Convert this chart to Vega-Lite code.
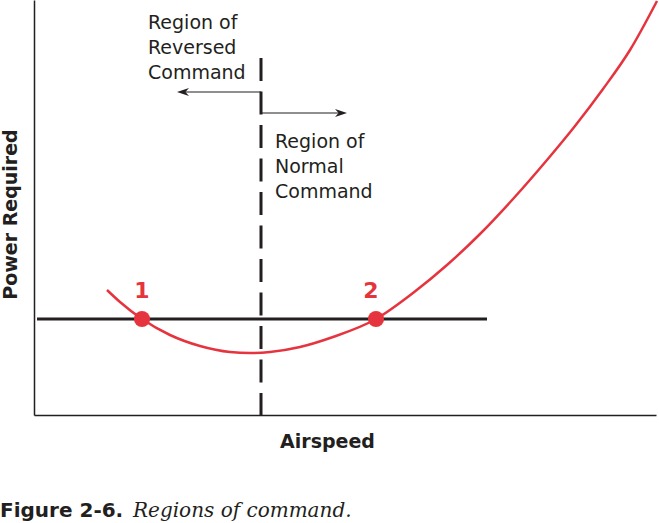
{
  "$schema": "https://vega.github.io/schema/vega-lite/v6.json",
  "width": 622,
  "height": 415,
  "autosize": {"type": "none"},
  "padding": {"left": 34, "top": 0, "right": 3, "bottom": 108},
  "background": "white",
  "config": {"view": {"stroke": null}},
  "datasets": {
    "curve": [
      {"x": 73, "y": 125}, {"x": 86, "y": 113}, {"x": 108, "y": 96}, {"x": 136, "y": 80},
      {"x": 166, "y": 69}, {"x": 196, "y": 63}, {"x": 216, "y": 62}, {"x": 236, "y": 63},
      {"x": 266, "y": 68}, {"x": 299, "y": 78}, {"x": 342, "y": 96}, {"x": 379, "y": 122},
      {"x": 413, "y": 150}, {"x": 446, "y": 181}, {"x": 479, "y": 216}, {"x": 513, "y": 255},
      {"x": 541, "y": 289}, {"x": 569, "y": 326}, {"x": 596, "y": 365}, {"x": 623, "y": 414}
    ],
    "hline": [{"x": 3, "x2": 453, "y": 96}],
    "vline": [{"x": 227, "y": 357, "y2": 0}],
    "arrows": [
      {"x": 227, "x2": 146, "y": 323, "dir": "left"},
      {"x": 227, "x2": 309, "y": 302, "dir": "right"}
    ],
    "heads": [
      {"x": 149, "y": 323, "dir": "left"},
      {"x": 307, "y": 302, "dir": "right"}
    ],
    "dots": [{"x": 108, "y": 96, "label": "1", "lx": 108}, {"x": 342, "y": 96, "label": "2", "lx": 337}],
    "regions": [
      {"x": 114, "y": 386, "label": "Region of\nReversed\nCommand"},
      {"x": 241, "y": 267, "label": "Region of\nNormal\nCommand"}
    ]
  },
  "encoding": {
    "x": {
      "field": "x", "type": "quantitative",
      "scale": {"domain": [0, 622], "nice": false, "zero": false},
      "axis": {
        "domain": true, "domainColor": "#231f20", "domainWidth": 1.5,
        "ticks": false, "labels": false, "grid": false,
        "title": "Airspeed", "titleFont": "DejaVu Sans", "titleFontSize": 19,
        "titleFontWeight": "bold", "titleColor": "#231f20",
        "titleX": 293, "titleY": 32, "titleAlign": "center", "titleBaseline": "alphabetic"
      }
    },
    "y": {
      "field": "y", "type": "quantitative",
      "scale": {"domain": [0, 415], "nice": false, "zero": false},
      "axis": {
        "domain": true, "domainColor": "#231f20", "domainWidth": 1.5,
        "ticks": false, "labels": false, "grid": false,
        "title": "Power Required", "titleFont": "DejaVu Sans", "titleFontSize": 19,
        "titleFontWeight": "bold", "titleColor": "#231f20",
        "titleX": -18, "titleY": 214, "titleAngle": 270, "titleAlign": "center", "titleBaseline": "alphabetic"
      }
    }
  },
  "layer": [
    {
      "data": {"name": "hline"},
      "mark": {"type": "rule", "color": "#231f20", "strokeWidth": 3},
      "encoding": {"x2": {"field": "x2"}}
    },
    {
      "data": {"name": "vline"},
      "mark": {"type": "rule", "color": "#231f20", "strokeWidth": 3, "strokeDash": [23, 10.5]},
      "encoding": {"y2": {"field": "y2"}}
    },
    {
      "data": {"name": "arrows"},
      "mark": {"type": "rule", "color": "#231f20", "strokeWidth": 1.2},
      "encoding": {"x2": {"field": "x2"}}
    },
    {
      "data": {"name": "heads"},
      "mark": {"type": "point", "filled": true, "color": "#231f20", "size": 144, "opacity": 1},
      "encoding": {
        "shape": {
          "field": "dir", "type": "nominal", "legend": null,
          "scale": {"domain": ["left", "right"], "range": ["M-1,0L1,-0.65L0.4,0L1,0.65Z", "M1,0L-1,-0.65L-0.4,0L-1,0.65Z"]}
        }
      }
    },
    {
      "data": {"name": "curve"},
      "mark": {"type": "line", "color": "#e6343f", "strokeWidth": 2.5, "interpolate": "monotone"}
    },
    {
      "data": {"name": "dots"},
      "mark": {"type": "point", "shape": "circle", "filled": true, "color": "#e6343f", "size": 260, "opacity": 1}
    },
    {
      "data": {"name": "dots"},
      "mark": {"type": "text", "font": "DejaVu Sans", "fontWeight": "bold", "fontSize": 22, "color": "#e6343f", "align": "center", "baseline": "alphabetic", "dy": -21},
      "encoding": {"x": {"field": "lx", "type": "quantitative"}, "text": {"field": "label"}}
    },
    {
      "data": {"name": "regions"},
      "mark": {"type": "text", "font": "DejaVu Sans", "fontSize": 19, "color": "#231f20", "align": "left", "baseline": "alphabetic", "lineBreak": "\n", "lineHeight": 25},
      "encoding": {"text": {"field": "label"}}
    },
    {
      "data": {"values": [{"x": -34, "y": -102, "label": "Figure 2-6."}]},
      "mark": {"type": "text", "font": "DejaVu Sans", "fontWeight": "bold", "fontSize": 20, "color": "#231f20", "align": "left", "baseline": "alphabetic"},
      "encoding": {"text": {"field": "label"}}
    },
    {
      "data": {"values": [{"x": 99, "y": -102, "label": "Regions of command."}]},
      "mark": {"type": "text", "font": "DejaVu Serif", "fontStyle": "italic", "fontSize": 20, "color": "#231f20", "align": "left", "baseline": "alphabetic"},
      "encoding": {"text": {"field": "label"}}
    }
  ]
}
